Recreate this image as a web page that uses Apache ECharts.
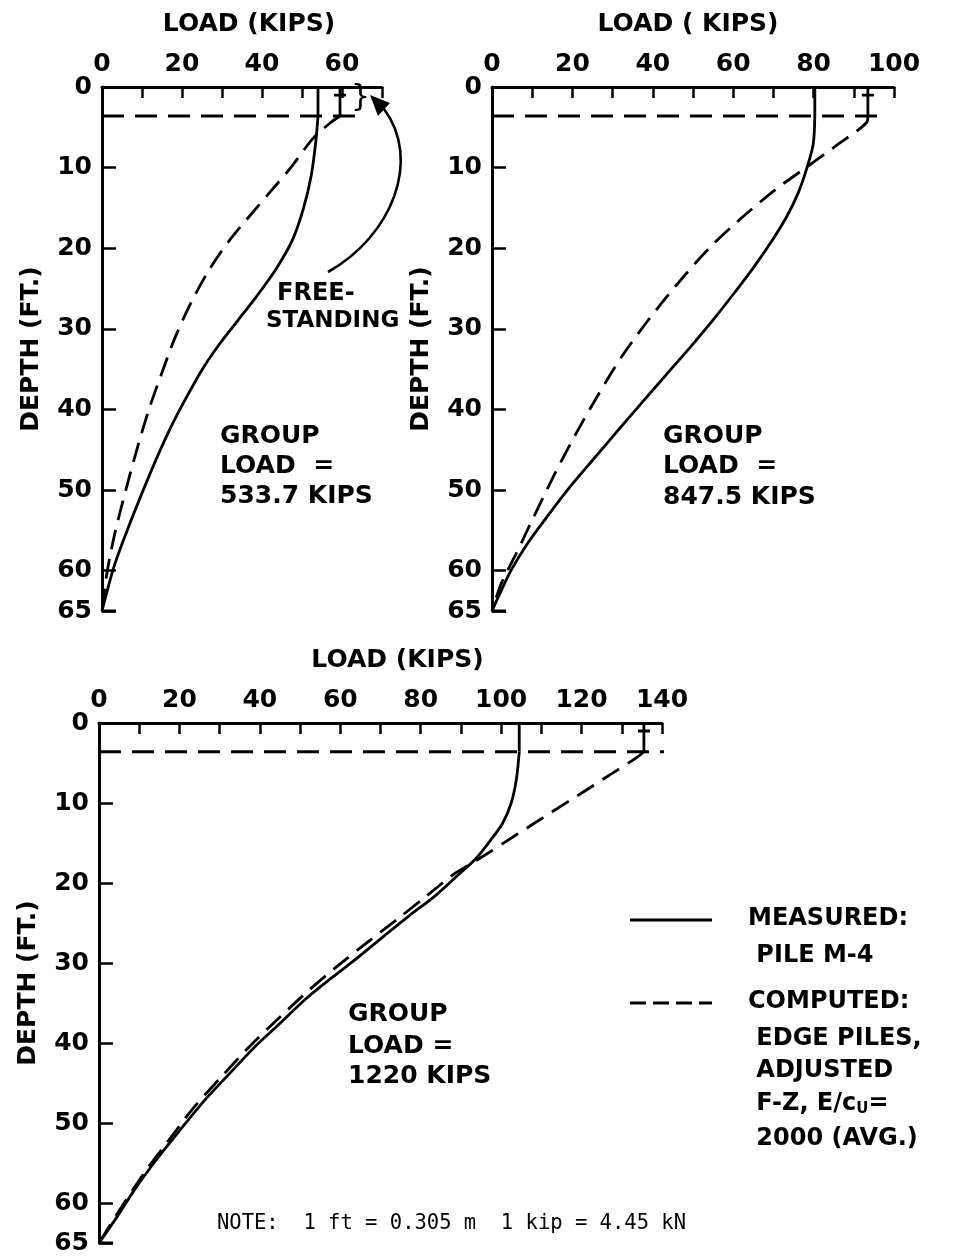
<!DOCTYPE html>
<html>
<head>
<meta charset="utf-8">
<script src="https://cdn.jsdelivr.net/npm/echarts@6/dist/echarts.min.js"></script>
<style>
html,body{margin:0;padding:0;background:#fff;}
#chart{width:958px;height:1260px;}
</style>
</head>
<body>
<div id="chart"></div>
<script>
// ---------- DATA (load in kips, depth in ft) ----------
const groundDepth = 3.6;
const tipDepth = 65;

// Panel 1 : group load 533.7 kips
const p1MeasuredHead = 54;
const p1ComputedHead = 59.5;
const p1Measured = [[54,3.6],[53.4,7],[52.3,11],[50.4,15],[47.6,19],[43.6,22.5],[38.6,26],[33.9,29],[29.2,32],[25.1,35],[21.1,38.5],[17.4,42],[13.7,46],[9.9,50.5],[6.3,55],[3,59.5],[0,65]];
const p1Computed = [[59.5,3.6],[57.2,4.4],[52.7,6.4],[47.2,10],[38.8,14.9],[31.6,19.2],[26.4,23],[21.8,27.2],[18,31.4],[14.8,35.7],[11.8,39.9],[8.7,45],[5.9,50.1],[3.1,55.6],[1.1,60.7],[0,65]];
const p1GroundEnd = 63.5;

// Panel 2 : group load 847.5 kips
const p2MeasuredHead = 80.3;
const p2ComputedHead = 93.5;
const p2Measured = [[80.3,3.6],[79.9,7.1],[78.3,10.1],[76.2,13.1],[73.3,16.1],[69.6,19.1],[64.9,22.5],[60.5,25.4],[55,28.9],[49.3,32.3],[43.3,35.7],[37.4,39.1],[31.5,42.5],[25.7,45.9],[19.9,49.3],[14,53.1],[9,56.5],[4.8,59.9],[1.9,62.9],[0,65]];
const p2Computed = [[93.5,3.6],[93.2,4.4],[86.1,7.1],[77.8,10.1],[70.6,12.7],[62.4,16.1],[54.2,19.9],[46.5,24.2],[38.9,28.9],[32.2,33.5],[26.4,38.2],[21,42.9],[15.6,48],[10.6,53.1],[6.1,57.8],[2.3,61.6],[0,65]];
const p2GroundEnd = 96.5;

// Panel 3 : group load 1220 kips
const p3MeasuredHead = 104.5;
const p3ComputedHead = 135.5;
const p3Measured = [[104.5,3.6],[103.8,7],[102.5,10],[100.3,12.6],[97.3,14.7],[93.8,16.9],[89.3,19],[83.6,21.6],[77.1,24.1],[70.7,26.7],[64.4,29.3],[58,31.8],[51.6,34.4],[45.3,37.4],[38.9,40.4],[32.5,43.8],[26.2,47.2],[19.8,51.1],[14.4,54.5],[8.9,58.3],[4.4,61.8],[0,65]];
const p3Computed = [[135.5,3.6],[133.5,4.4],[127.9,6.2],[120.8,8.5],[112.7,11.1],[103.4,14.1],[96,16.5],[92,17.75],[88.5,18.8],[81.5,21.6],[74.5,24.4],[66.8,27.4],[59.5,30.3],[52,33.5],[44.5,37],[37.5,40.4],[30.5,44.2],[23.5,48.1],[17,52.4],[11.3,56.2],[5.6,60.5],[0,65]];
const p3GroundEnd = 144;

const xMaxes = [70, 100, 140];
const xLabelMax = [60, 100, 140];
const xNames = ['LOAD (KIPS)', 'LOAD ( KIPS)', 'LOAD (KIPS)'];
const yName = 'DEPTH (FT.)';
const groupLoadTexts = ['533.7 KIPS', '847.5 KIPS', '1220 KIPS'];
const legendMeasured = ['MEASURED:', ' PILE M-4'];
const legendComputed = ['COMPUTED:', ' EDGE PILES,', ' ADJUSTED', ' F-Z, E/c{s|U}=', ' 2000 (AVG.)'];
const noteText = 'NOTE:  1 ft = 0.305 m  1 kip = 4.45 kN';

// ---------- CHART ----------
const FONT = 'DejaVu Sans';
const FW = 'bold';
const chart = echarts.init(document.getElementById('chart'), null, {renderer:'canvas'});

const grids = [
  {left:102, top:87, width:280, height:524},
  {left:492, top:87, width:402, height:524},
  {left:99, top:723, width:563, height:520}
];

function xAx(i, pad) {
  return {
    type:'value', gridIndex:i, position:'top', min:0, max:xMaxes[i], interval:10,
    name:xNames[i], nameLocation:'middle', nameGap:50,
    nameTextStyle:{fontFamily:FONT, fontWeight:FW, fontSize:25, color:'#000', padding:pad},
    axisLine:{show:true, onZero:false, lineStyle:{color:'#000', width:3}},
    axisTick:{show:true, inside:true, length:11, lineStyle:{color:'#000', width:2.5}},
    axisLabel:{show:true, margin:10, fontFamily:FONT, fontWeight:FW, fontSize:25, color:'#000',
      formatter:v => (v % 20 === 0 && v <= xLabelMax[i]) ? String(v) : ''},
    splitLine:{show:false}
  };
}
function yAx(i) {
  return {
    type:'value', gridIndex:i, inverse:true, min:0, max:65, interval:10,
    name:yName, nameLocation:'middle', nameGap:58, nameRotate:90,
    nameTextStyle:{fontFamily:FONT, fontWeight:FW, fontSize:25, color:'#000'},
    axisLine:{show:true, onZero:false, lineStyle:{color:'#000', width:3}},
    axisTick:{show:true, inside:true, length:14, lineStyle:{color:'#000', width:2.5}},
    axisLabel:{show:true, margin:10, fontFamily:FONT, fontWeight:FW, fontSize:25, color:'#000'},
    splitLine:{show:false}
  };
}

const series = [];
function line(i, data, dashed, smooth, width) {
  series.push({
    type:'line', xAxisIndex:i, yAxisIndex:i, data:data, showSymbol:false, symbol:'none',
    smooth:smooth ? 0.3 : false, clip:false,
    lineStyle:{color:'#000', width:width || 2.8, type: dashed ? [20,10] : 'solid'},
    silent:true, animation:false
  });
}
const heads = [[p1MeasuredHead,p1ComputedHead],[p2MeasuredHead,p2ComputedHead],[p3MeasuredHead,p3ComputedHead]];
const meas = [p1Measured, p2Measured, p3Measured];
const comp = [p1Computed, p2Computed, p3Computed];
const groundEnds = [p1GroundEnd, p2GroundEnd, p3GroundEnd];
for (let i = 0; i < 3; i++) {
  // ground line
  series.push({
    type:'line', xAxisIndex:i, yAxisIndex:i, data:[[0,groundDepth],[groundEnds[i],groundDepth]],
    showSymbol:false, symbol:'none', clip:false, silent:true, animation:false,
    lineStyle:{color:'#000', width:3, type:[22,11]}
  });
  // pile heads (above ground)
  line(i, [[heads[i][0],0],[heads[i][0],groundDepth]], false, false, 2.8);
  line(i, [[heads[i][1],0],[heads[i][1],groundDepth]], false, false, 2.8);
  line(i, [[heads[i][1]-1.5,1],[heads[i][1]+1.5,1]], false, false, 2.8);
  // curves
  line(i, meas[i], false, true, 2.8);
  line(i, comp[i], true, true, 2.8);
  // pile tip
  line(i, [[0,tipDepth],[3.5,tipDepth]], false, false, 3);
}

function txt(x, y, s, size) {
  return {type:'text', left:x, top:y, style:{text:s, fontFamily:FONT, fontWeight:FW, fontSize:size||25, fill:'#000'}};
}
const graphics = [
  txt(277, 282, 'FREE-', 24),
  txt(266, 310, 'STANDING', 23),
  txt(220, 424, 'GROUP'), txt(220, 454, 'LOAD  ='), txt(220, 484, groupLoadTexts[0]),
  txt(663, 424, 'GROUP'), txt(663, 454, 'LOAD  ='), txt(663, 485, groupLoadTexts[1]),
  txt(348, 1002, 'GROUP'), txt(348, 1034, 'LOAD ='), txt(348, 1064, groupLoadTexts[2]),
  txt(748, 907, legendMeasured[0], 24), txt(748, 944, legendMeasured[1], 24),
  txt(748, 990, legendComputed[0], 24), txt(748, 1027, legendComputed[1], 24),
  txt(748, 1059, legendComputed[2], 24),
  {type:'text', left:748, top:1092, style:{text:legendComputed[3], fontFamily:FONT, fontWeight:FW, fontSize:24, fill:'#000',
     rich:{s:{fontFamily:FONT, fontWeight:FW, fontSize:15, fill:'#000', padding:[10,0,0,0]}}}},
  txt(748, 1127, legendComputed[4], 24),
  {type:'line', shape:{x1:630, y1:920, x2:712, y2:920}, style:{stroke:'#000', lineWidth:3}},
  {type:'line', shape:{x1:630, y1:1003, x2:712, y2:1003}, style:{stroke:'#000', lineWidth:3, lineDash:[16,7]}},
  {type:'text', left:217, top:1213, style:{text:noteText, fontFamily:'DejaVu Sans Mono', fontSize:20.5, fill:'#000'}},
  // brace + arrow for free-standing
  {type:'text', left:351, top:83, style:{text:'}', fontFamily:FONT, fontSize:30, fill:'#000'}},
  {type:'bezierCurve', shape:{x1:328, y1:272, cpx1:392, cpy1:236, cpx2:422, cpy2:160, x2:384, y2:109},
     style:{stroke:'#000', lineWidth:2.6, fill:null}},
  {type:'polygon', shape:{points:[[370,95],[390,103],[378,116]]}, style:{fill:'#000'}}
];

chart.setOption({
  backgroundColor:'#fff',
  animation:false,
  grid:grids,
  xAxis:[xAx(0,[0,0,0,14]), xAx(1,[0,0,0,-10]), xAx(2,[0,0,0,34])],
  yAxis:[yAx(0), yAx(1), yAx(2)],
  series:series,
  graphic:graphics
});
</script>
</body>
</html>
